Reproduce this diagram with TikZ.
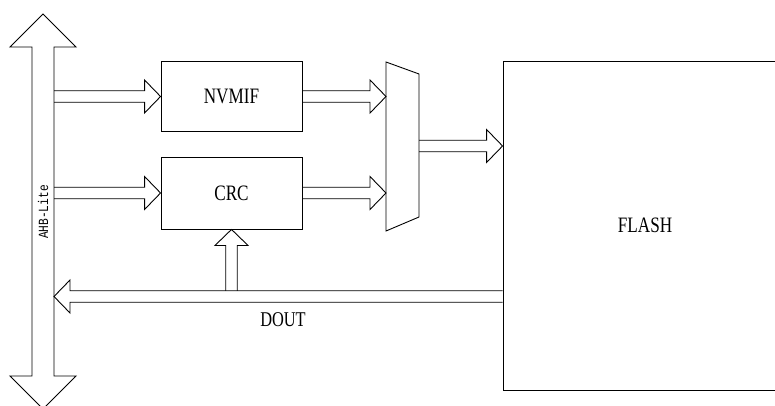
\documentclass[tikz,border=0pt]{standalone}
\usepackage{fontspec}
\setmainfont{Liberation Serif}[FakeStretch=0.78]
\newfontfamily\busfont{Liberation Mono}[FakeStretch=0.8]
\usepackage{tikz}
\usetikzlibrary{calc, positioning}

% mui ten to (khoi) tu diem #1 den diem #2
\newcommand{\fatarrow}[2]{%
    \coordinate (fa-s) at (#1);
    \coordinate (fa-e) at (#2);
    \coordinate (fa-b) at ($(fa-e)!16pt!(fa-s)$);
    \draw ($(fa-s)!5.75pt!90:(fa-e)$) -- ($(fa-b)!5.75pt!90:(fa-e)$)
        -- ($(fa-b)!16.5pt!90:(fa-e)$) -- (fa-e)
        -- ($(fa-b)!16.5pt!-90:(fa-e)$) -- ($(fa-b)!5.75pt!-90:(fa-e)$)
        -- ($(fa-s)!5.75pt!-90:(fa-e)$);
}

\begin{document}
\begin{tikzpicture}[x=1pt, y=-1pt, line width=0.9pt,
    block/.style={draw, minimum width=141pt, minimum height=70pt, font=\fontsize{22}{25}\selectfont},
    lbl/.style={font=\fontsize{21}{24}\selectfont}]
    \useasboundingbox (0,0) rectangle (775,406);
    
    % --- Bus AHB-Lite (mui ten hai dau) ---
    \draw (32,47) -- (10,47) -- (43,14) -- (76,47) -- (54,47) -- (54,376)
        -- (76,376) -- (43,409) -- (10,376) -- (32,376) -- cycle;
    \coordinate (busR) at (54,200);
    \node[rotate=90, font=\busfont\fontsize{14}{16}\selectfont] (ahb) at (43,212) {AHB-Lite};
    
    % Cac khoi
    \node[block] (nvmif) at (231.5,96.5) {NVMIF};
    \node[block, minimum height=72pt] (crc) at (231.5,193) {CRC};
    \node[block, minimum width=284pt, minimum height=329pt] (flash) at (645,225.5) {FLASH};
    
    % Bo chon (MUX)
    \coordinate (m1) at (386,62);
    \coordinate (m2) at (419,74);
    \coordinate (m3) at (419,217);
    \coordinate (m4) at (386,231);
    \draw (m1) -- (m2) -- (m3) -- (m4) -- cycle;
    
    % Cac mui ten
    \fatarrow{busR |- nvmif.west}{nvmif.west}
    \fatarrow{busR |- crc.west}{crc.west}
    \fatarrow{nvmif.east}{m1 |- nvmif.east}
    \fatarrow{crc.east}{m1 |- crc.east}
    \coordinate (mo) at (419,146);
    \fatarrow{mo}{flash.west |- mo}
    
    % Duong DOUT
    \coordinate (doutE) at (flash.west |- 0,296.5);
    \fatarrow{doutE}{busR |- doutE}
    \coordinate (upS) at ($(crc.south |- doutE)+(0,-5.75)$);
    \fatarrow{upS}{crc.south}
    \node[lbl] (dout) at (283,320) {DOUT};
    
\end{tikzpicture}
\end{document}
